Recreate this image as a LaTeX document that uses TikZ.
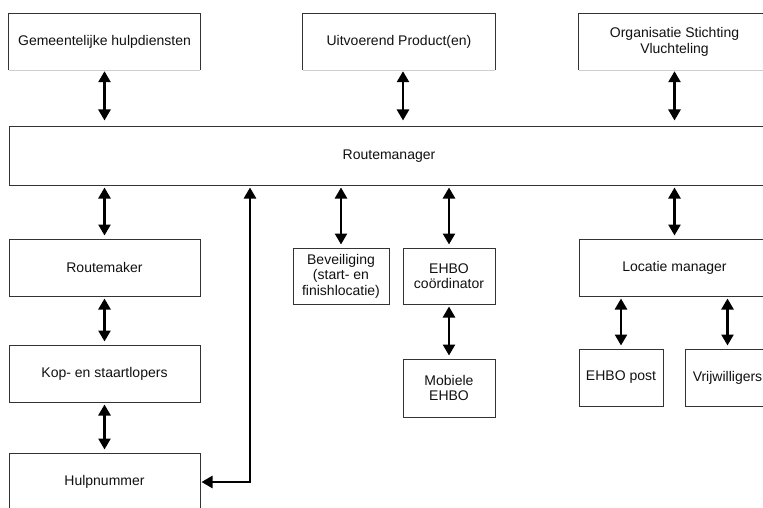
\documentclass[tikz,border=0pt]{standalone}
\usepackage{fontspec}
\setmainfont{Liberation Sans}
\usetikzlibrary{arrows.meta}
\definecolor{boxc}{HTML}{333333}
\definecolor{txtc}{HTML}{111111}
\definecolor{faint}{HTML}{CFCFCF}
\tikzset{
  orgbox/.style={draw=boxc, line width=1pt, inner sep=0pt, align=center,
    text=txtc, font=\fontsize{14}{15.5}\selectfont},
  topbox/.style={inner sep=0pt, align=center,
    text=txtc, font=\fontsize{14}{16}\selectfont},
  biarr/.style={line width=2.5pt, black,
    {Triangle[width=12pt,length=11pt]}-{Triangle[width=12pt,length=11pt]},
    shorten <=2pt, shorten >=3pt},
  toparr/.style={biarr, shorten <=1pt, shorten >=6pt}
}
\begin{document}
\begin{tikzpicture}[x=1pt,y=-1pt]
\useasboundingbox (0,0) rectangle (763,508);
\fill[white] (0,0) rectangle (763,508);
\clip (0,0) rectangle (763,508);

% top row (bottom edge faint)
\node[topbox, minimum width=191pt, minimum height=56pt] (gem) at (104.5,42) {Gemeentelijke hulpdiensten};
\node[topbox, minimum width=192pt, minimum height=56pt] (uit) at (399,42) {Uitvoerend Product(en)};
\node[topbox, minimum width=191pt, minimum height=56pt] (org) at (674.5,42) {Organisatie Stichting\\Vluchteling};
\foreach \n in {gem,uit,org}{
  \draw[boxc, line width=1pt] (\n.south west) -- (\n.north west) -- (\n.north east) -- (\n.south east);
  \draw[faint, line width=0.8pt] (\n.south west) -- (\n.south east);
}

% central bar
\node[orgbox, minimum width=760pt, minimum height=58pt] (rm) at (389,156) {Routemanager};

% left column
\node[orgbox, minimum width=191pt, minimum height=57pt] (rmk) at (104.5,267.5) {Routemaker};
\node[orgbox, minimum width=191pt, minimum height=57pt] (kop) at (104.5,373.5) {Kop- en staartlopers};
\node[orgbox, minimum width=191pt, minimum height=58pt] (hulp) at (104.5,482) {Hulpnummer};

% middle
\node[orgbox, minimum width=96pt, minimum height=56pt] (bev) at (341,276) {Beveiliging\\(start- en\\finishlocatie)};
\node[orgbox, minimum width=92pt, minimum height=56pt] (ehc) at (449,276) {EHBO\\coördinator};
\node[orgbox, minimum width=92pt, minimum height=58pt] (mob) at (449,388) {Mobiele\\EHBO};

% right
\node[orgbox, minimum width=191pt, minimum height=57pt] (loc) at (674.5,267.5) {Locatie manager};
\node[orgbox, minimum width=84pt, minimum height=57pt] (post) at (621,377.5) {EHBO post};
\node[orgbox, minimum width=85pt, minimum height=57pt] (vrij) at (727.5,377.5) {Vrijwilligers};

% arrows top row
\draw[toparr] (gem.south) -- (gem.south |- rm.north);
\draw[toparr] ([xshift=4pt]uit.south) -- ([xshift=4pt]uit.south |- rm.north);
\draw[toparr] (org.south) -- (org.south |- rm.north);

% arrows from bar
\draw[biarr] (rmk.north |- rm.south) -- (rmk.north);
\draw[biarr] (bev.north |- rm.south) -- (bev.north);
\draw[biarr] (ehc.north |- rm.south) -- (ehc.north);
\draw[biarr] (loc.north |- rm.south) -- (loc.north);

% chains
\draw[biarr] (rmk.south) -- (kop.north);
\draw[biarr] (kop.south) -- (hulp.north);
\draw[biarr] (ehc.south) -- (mob.north);
\draw[biarr] (post.north |- loc.south) -- (post.north);
\draw[biarr] (vrij.north |- loc.south) -- (vrij.north);

% Hulpnummer link
\coordinate (hj) at (250,0);
\draw[biarr, shorten <=1pt, shorten >=2pt] (hulp.east) -| (hj |- rm.south);
\end{tikzpicture}
\end{document}
